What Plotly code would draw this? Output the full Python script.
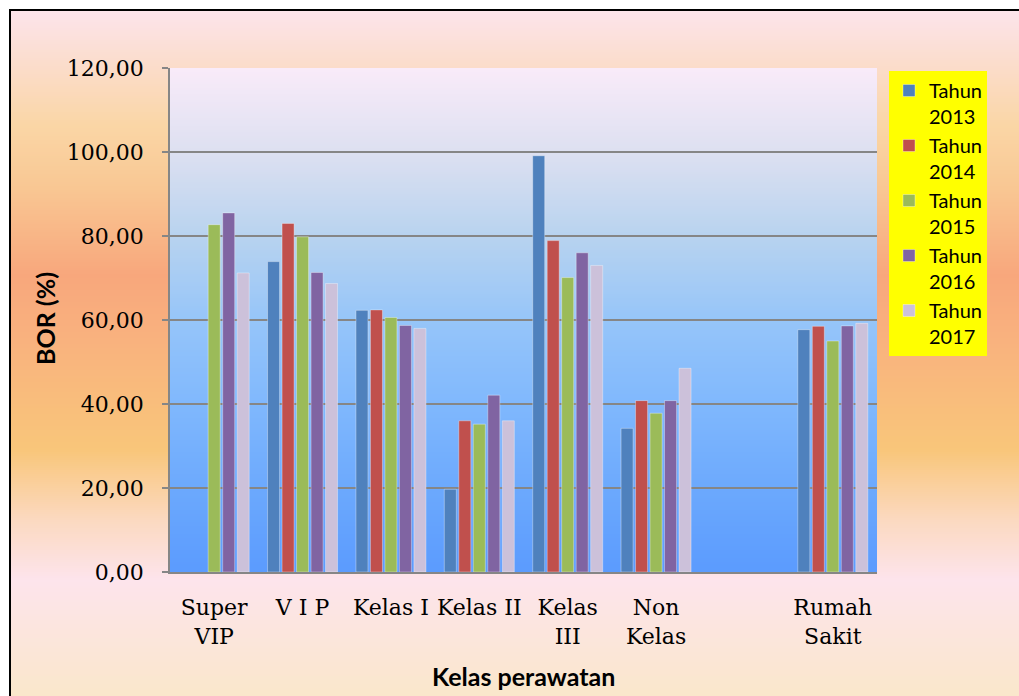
import plotly.graph_objects as go

# ---- data -------------------------------------------------------------
categories = ["Super<br>VIP", "V I P", "Kelas I", "Kelas II", "Kelas<br>III",
              "Non<br>Kelas", " ", "Rumah<br>Sakit"]
tahun_2013 = [None, 73.9, 62.3, 19.7, 99.1, 34.2, None, 57.7]
tahun_2014 = [None, 83.0, 62.4, 36.0, 78.9, 40.8, None, 58.5]
tahun_2015 = [82.7, 79.8, 60.6, 35.2, 70.1, 37.8, None, 55.0]
tahun_2016 = [85.5, 71.3, 58.7, 42.1, 76.0, 40.8, None, 58.6]
tahun_2017 = [71.2, 68.7, 58.0, 36.0, 73.0, 48.5, None, 59.2]
series_names = ["Tahun<br>2013", "Tahun<br>2014", "Tahun<br>2015", "Tahun<br>2016", "Tahun<br>2017"]
series_values = [tahun_2013, tahun_2014, tahun_2015, tahun_2016, tahun_2017]
series_colors = ["#4f81bd", "#c0504d", "#9bbb59", "#8064a2", "#ccc1da"]

# ---- page geometry (pixels) -------------------------------------------
W, H = 1019, 696
L, R, T, B = 170, 142, 68, 124
PW, PH = W - L - R, H - T - B


def xp(px):
    return (px - L) / PW


def yp(py):
    return (H - B - py) / PH


def hex_rgb(h):
    h = h.lstrip("#")
    return tuple(int(h[i:i + 2], 16) for i in (0, 2, 4))


def color_at(stops, y):
    if y <= stops[0][0]:
        return hex_rgb(stops[0][1])
    for (y0, c0), (y1, c1) in zip(stops, stops[1:]):
        if y0 <= y <= y1:
            a, b = hex_rgb(c0), hex_rgb(c1)
            t = (y - y0) / (y1 - y0)
            return tuple(round(a[i] + (b[i] - a[i]) * t) for i in range(3))
    return hex_rgb(stops[-1][1])


def gradient_bands(x0, x1, y0, y1, stops, step=2):
    out = []
    y = y0
    while y < y1:
        r, g, b = color_at(stops, y + step / 2)
        out.append(dict(type="rect", xref="paper", yref="paper", layer="below",
                        x0=xp(x0), x1=xp(x1), y0=yp(min(y + step + 0.6, y1)), y1=yp(y),
                        line=dict(width=0), fillcolor=f"rgb({r},{g},{b})"))
        y += step
    return out


outer_stops = [(10, "#fce4ec"), (70, "#fbdcc8"), (125, "#fad6a6"), (185, "#f9c894"),
               (275, "#f8a77c"), (335, "#f9b17e"), (450, "#f9c67a"), (520, "#fbd9c0"),
               (580, "#fde4ec"), (696, "#fae7cb")]
plot_stops = [(68, "#f9ebf9"), (152, "#dde0f1"), (236, "#b8d3ef"), (320, "#96c5f9"),
              (404, "#80b8fd"), (488, "#6ca9fd"), (572, "#5b9bfe")]

shapes = gradient_bands(10, W + 5, 10, H + 2, outer_stops)
shapes += gradient_bands(L, L + PW, T, T + PH, plot_stops)
# chart frame
shapes.append(dict(type="rect", xref="paper", yref="paper", layer="below",
                   x0=xp(10), x1=xp(W + 20), y0=yp(H + 20), y1=yp(10),
                   line=dict(color="#000000", width=2), fillcolor="rgba(0,0,0,0)"))

fig = go.Figure()
for name, vals, col in zip(series_names, series_values, series_colors):
    fig.add_trace(go.Bar(x=categories, y=vals, name=name,
                         marker=dict(color=col, line=dict(color="rgba(255,255,255,0.35)", width=1))))

fig.update_layout(
    width=W, height=H,
    margin=dict(l=L, r=R, t=T, b=B, pad=0),
    paper_bgcolor="#ffffff",
    plot_bgcolor="rgba(0,0,0,0)",
    separators=",.",
    barmode="group", bargap=0.18, bargroupgap=0.17,
    shapes=shapes,
    showlegend=True,
    legend=dict(x=xp(889), y=yp(71), xanchor="left", yanchor="top",
                bgcolor="#ffff00", borderwidth=0, valign="top",
                font=dict(family="Lato", size=20, color="#000000"),
                traceorder="normal"),
    annotations=[
        dict(text="<b>BOR (%)</b>", xref="paper", yref="paper", x=xp(45), y=yp(319),
             textangle=-90, showarrow=False, xanchor="center", yanchor="middle",
             font=dict(family="Lato", size=25, color="#000000")),
        dict(text="<b>Kelas perawatan</b>", xref="paper", yref="paper", x=xp(523), y=yp(676),
             showarrow=False, xanchor="center", yanchor="middle",
             font=dict(family="Lato", size=25, color="#000000")),
    ],
)

fig.update_xaxes(type="category", categoryorder="array", categoryarray=categories,
                 showline=True, linecolor="#868686", linewidth=2, ticks="",
                 showgrid=False, ticklabelstandoff=15,
                 tickfont=dict(family="DejaVu Serif", size=22, color="#000000"))
fig.update_yaxes(range=[0, 120], dtick=20, tickformat=".2f",
                 showline=True, linecolor="#868686", linewidth=1.5,
                 ticks="outside", ticklen=6, tickcolor="#868686", tickwidth=1.5,
                 showgrid=True, gridcolor="#868686", gridwidth=1.5,
                 zeroline=False, ticklabelstandoff=14,
                 tickfont=dict(family="DejaVu Serif", size=22, color="#000000"))

fig.write_html("out.html")
